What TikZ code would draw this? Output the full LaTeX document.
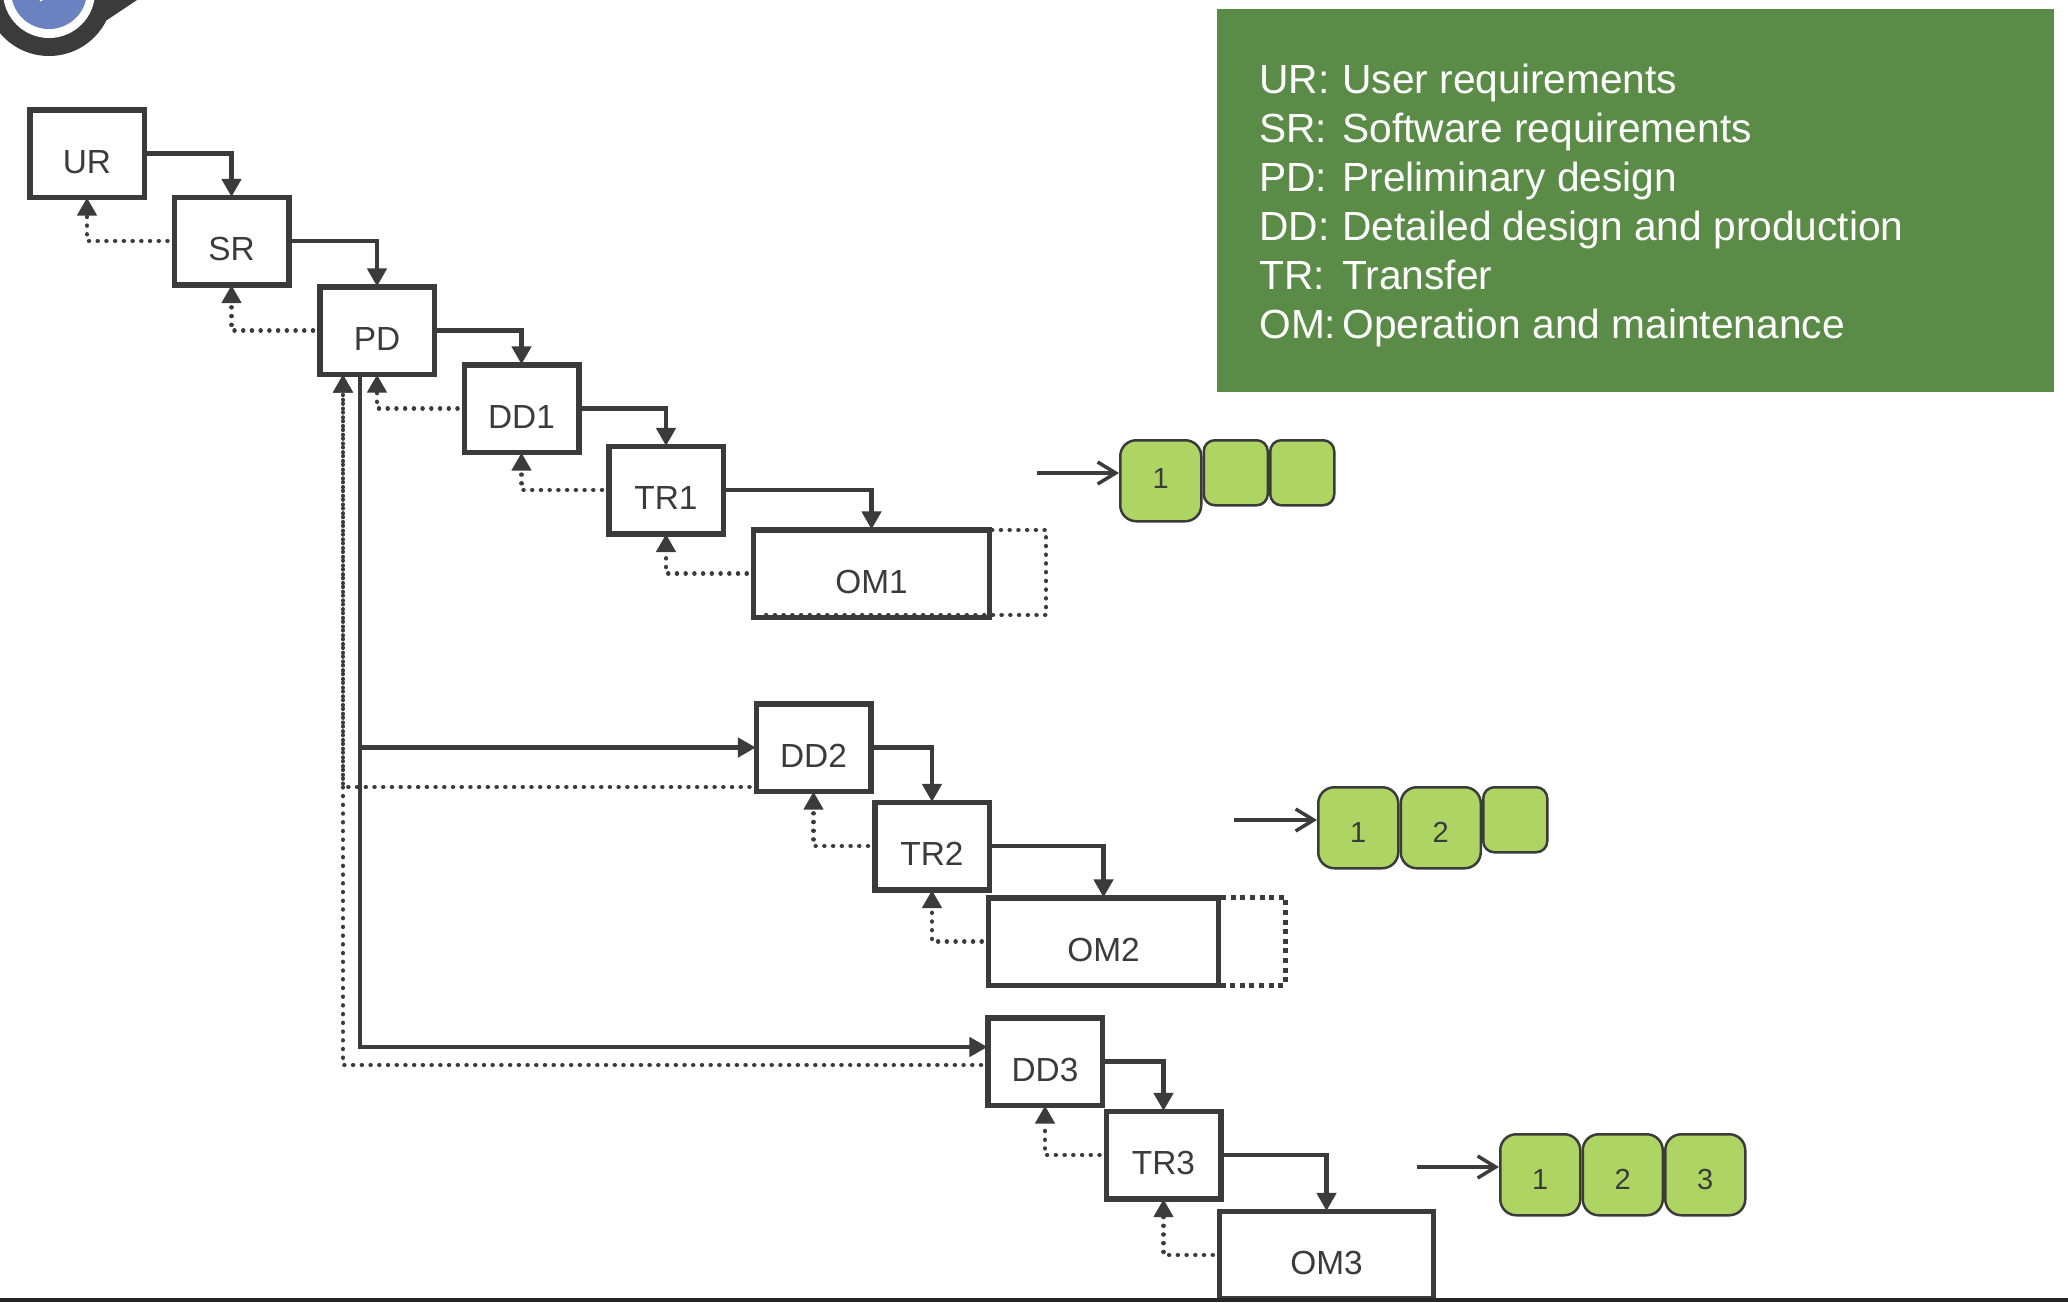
\documentclass[tikz,border=0pt]{standalone}
\usepackage{fontspec}
\setmainfont{Liberation Sans}
\usetikzlibrary{arrows.meta,positioning}
\definecolor{inkgrey}{HTML}{3B3B3B}
\definecolor{legendgreen}{HTML}{5B8C47}
\definecolor{tilegreen}{HTML}{AED563}
\definecolor{pinblue}{HTML}{6A82C0}
\begin{document}
\begin{tikzpicture}[
    x=0.5pt, y=-0.5pt,
    box/.style={draw=inkgrey, rectangle, line width=2.75pt, inner sep=0pt,
                minimum width=57.25pt, minimum height=43.75pt,
                text height=19.9pt, text depth=0pt, text=inkgrey,
                font=\fontsize{16.7}{18}\selectfont},
    tile/.style={draw=inkgrey, fill=tilegreen, rectangle, line width=1.25pt, inner sep=0pt,
                 rounded corners=8pt, minimum width=40pt, minimum height=40.5pt,
                 text height=15pt, text depth=0pt, text=inkgrey,
                 font=\fontsize{14.5}{16}\selectfont},
    tilesmall/.style={tile, rounded corners=5.5pt, minimum width=32pt, minimum height=32.5pt},
    flow/.style={draw=inkgrey, line width=2.25pt, shorten >=-1.2pt,
                 -{Triangle[length=9pt,width=9.5pt]}},
    back/.style={draw=inkgrey, line width=2.25pt, line cap=round,
                 dash pattern=on 0.01pt off 4.35pt, shorten <=2pt, shorten >=-1.2pt,
                 -{Triangle[length=9pt,width=9.5pt]}},
    loopline/.style={draw=inkgrey, line width=2.25pt, line cap=round,
                     dash pattern=on 0.01pt off 4.35pt},
    loopsquare/.style={draw=inkgrey, line width=2.5pt, dash pattern=on 2.5pt off 2.3pt},
    feed/.style={draw=inkgrey, line width=1.75pt, -{Straight Barb[length=9pt,width=11pt]}}
]
\useasboundingbox (0,0) rectangle (2068,1302);

\begin{scope}
\clip (0,0) rectangle (2068,1302);
\fill [inkgrey] (49,-8) circle [radius=64];
\fill [inkgrey] (107,20) -- (137,0) -- (140,-4) -- (85,-10) -- cycle;
\fill [white] (49,-8) circle [radius=46];
\fill [pinblue] (49,-9) circle [radius=38];
\fill [white] (41,0) circle [radius=1.5];
\end{scope}

\node (legend) [fill=legendgreen, inner sep=0pt, minimum width=418.5pt, minimum height=191.5pt, anchor=north west] at (1217,9) {};
\node (legendtext) [anchor=north west, inner sep=0pt, text=white, font=\fontsize{20.35}{24.45}\selectfont] at (1259,59) {%
\begin{tabular}{@{}p{41.5pt}@{}l@{}}
UR: & User requirements\\
SR: & Software requirements\\
PD: & Preliminary design\\
DD: & Detailed design and production\\
TR: & Transfer\\
OM: & Operation and maintenance
\end{tabular}};

\node (UR) [box] at (87,153.5) {UR};
\node (SR) [box] at (231.5,241) {SR};
\node (PD) [box] at (377,330.5) {PD};
\node (DD1) [box] at (521.5,408.5) {DD1};
\node (TR1) [box] at (666,490) {TR1};
\node (OM1) [box, minimum width=118pt] at (871.5,573.5) {OM1};
\node (DD2) [box] at (813.5,747.5) {DD2};
\node (TR2) [box] at (932,846) {TR2};
\node (OM2) [box, minimum width=115pt] at (1103.5,941.5) {OM2};
\node (DD3) [box] at (1045,1061.5) {DD3};
\node (TR3) [box] at (1163.5,1155) {TR3};
\node (OM3) [box, minimum width=107pt] at (1326.5,1255) {OM3};

\draw [flow] (UR.east) -| (SR.north);
\draw [flow] (SR.east) -| (PD.north);
\draw [flow] (PD.east) -| (DD1.north);
\draw [flow] (DD1.east) -| (TR1.north);
\draw [flow] (TR1.east) -| (OM1.north);
\draw [flow] (DD2.east) -| (TR2.north);
\draw [flow] (TR2.east) -| (OM2.north);
\draw [flow] (DD3.east) -| (TR3.north);
\draw [flow] (TR3.east) -| (OM3.north);

\draw [back] (SR.west) -| (UR.south);
\draw [back] (PD.west) -| (SR.south);
\draw [back] (DD1.west) -| (PD.south);
\draw [back] (TR1.west) -| (DD1.south);
\draw [back] (OM1.west) -| (TR1.south);
\draw [back] (TR2.west) -| (DD2.south);
\draw [back] (OM2.west) -| (TR2.south);
\draw [back] (TR3.west) -| (DD3.south);
\draw [back] (OM3.west) -| (TR3.south);

\coordinate (PDout) at ([xshift=-8.5pt]PD.south);
\coordinate (PDback) at ([xshift=-17pt]PD.south);
\coordinate (DD2return) at ([yshift=-19.75pt]DD2.west);
\coordinate (DD3entry) at ([yshift=7.25pt]DD3.west);
\coordinate (DD3return) at ([yshift=-1.75pt]DD3.west);
\draw [flow] (PDout) |- (DD2.west);
\draw [flow] (PDout) |- (DD3entry);
\draw [back] (DD2return) -| (PDback);
\draw [back] (DD3return) -| (PDback);

\coordinate (OM1start) at ([yshift=-1.5pt]OM1.north east);
\coordinate (OM1corner) at (1046,615);
\coordinate (OM1end) at (758,615);
\draw [loopline] (OM1start) -| (OM1corner) -- (OM1end);
\coordinate (OM2start) at ([yshift=-1pt]OM2.north east);
\coordinate (OM2corner) at (1285,985);
\coordinate (OM2end) at ([yshift=1.5pt]OM2.south east);
\draw [loopsquare] (OM2start) -| (OM2corner) -- (OM2end);

\node (tileA) [tile, minimum width=40.5pt, text height=7.5pt, anchor=north west] at (1119,439) {1};
\node (tileAb) [tilesmall, right=0pt of tileA.north east, anchor=north west] {};
\node (tileAc) [tilesmall, right=0pt of tileAb.north east, anchor=north west] {};
\coordinate (feedA) at (1037,473);
\draw [feed] (feedA) -- (feedA -| tileA.west);

\node (tileB) [tile, anchor=north west] at (1317,786) {1};
\node (tileBb) [tile, right=0pt of tileB.north east, anchor=north west] {2};
\node (tileBc) [tilesmall, right=0pt of tileBb.north east, anchor=north west] {};
\coordinate (feedB) at (1234,820);
\draw [feed] (feedB) -- (feedB -| tileB.west);

\node (tileC) [tile, anchor=north west] at (1499,1133) {1};
\node (tileCb) [tile, right=0pt of tileC.north east, anchor=north west] {2};
\node (tileCc) [tile, right=0pt of tileCb.north east, anchor=north west] {3};
\coordinate (feedC) at (1417,1167);
\draw [feed] (feedC) -- (feedC -| tileC.west);

\fill [black!85] (0,1298) rectangle (2068,1302);
\end{tikzpicture}
\end{document}
